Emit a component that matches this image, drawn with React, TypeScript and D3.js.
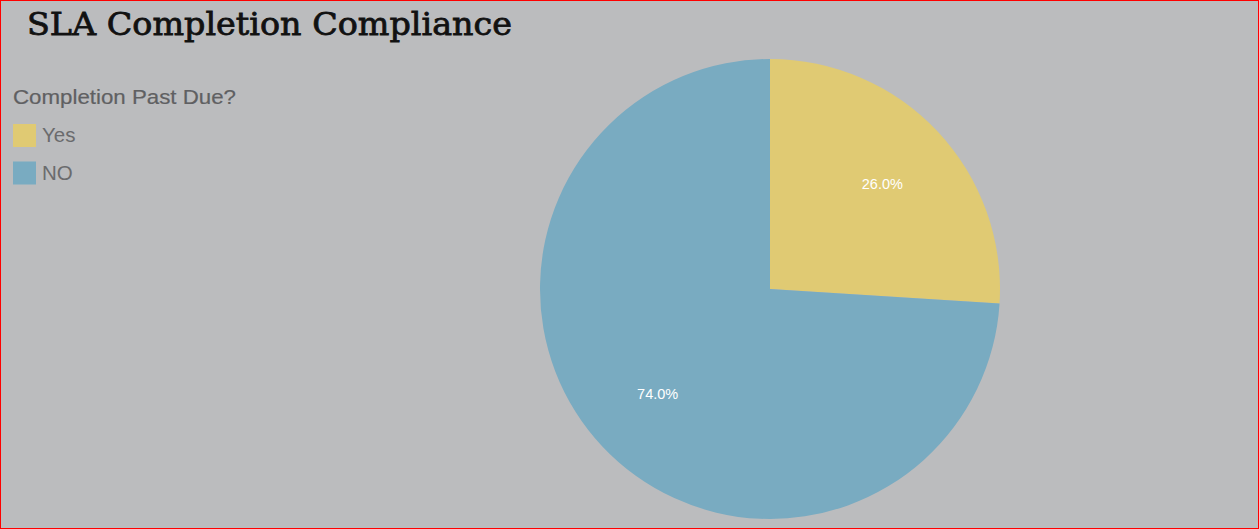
import React from "react";
import * as d3 from "d3";

const categories = ["Yes", "NO"];
const values = [26.0, 74.0];
const colors = ["#e0ca73", "#79abc1"];
const title = "SLA Completion Compliance";
const legendTitle = "Completion Past Due?";

const W = 1259;
const H = 529;

export default function App() {
  const cx = 770;
  const cy = 289;
  const r = 230;
  const pie = d3.pie<number>().sort(null).value((d) => d);
  const arcs = pie(values);
  const arc = d3.arc<d3.PieArcDatum<number>>().innerRadius(0).outerRadius(r);
  const labelArc = d3.arc<d3.PieArcDatum<number>>().innerRadius(r * 0.67).outerRadius(r * 0.67);
  const total = d3.sum(values);
  return (
    <svg width={W} height={H} style={{ position: "absolute", left: 0, top: 0, display: "block" }}>
      <rect x={0.5} y={0.5} width={W - 1} height={H - 1} fill="#bbbcbe" stroke="#ff0000" strokeWidth={1} />
      <text x={27} y={35} fontFamily="DejaVu Serif" fontSize={32} fill="#111" stroke="#111" strokeWidth={0.8} textLength={485} lengthAdjust="spacingAndGlyphs">
        {title}
      </text>
      <text x={13} y={104} fontFamily="Liberation Sans, Arial" fontSize={20.5} fill="#5f6062" stroke="#5f6062" strokeWidth={0.2} textLength={223} lengthAdjust="spacingAndGlyphs">
        {legendTitle}
      </text>
      {categories.map((c, i) => (
        <g key={c} transform={`translate(13,${124 + i * 37.5})`}>
          <rect width={23} height={23} fill={colors[i]} />
          <text x={29} y={18} fontFamily="Liberation Sans, Arial" fontSize={20.5} fill="#6a6b6d">
            {c}
          </text>
        </g>
      ))}
      <g transform={`translate(${cx},${cy})`}>
        {arcs.map((a, i) => (
          <path key={i} d={arc(a) || ""} fill={colors[i]} />
        ))}
        {arcs.map((a, i) => {
          const [x, y] = labelArc.centroid(a);
          return (
            <text key={"l" + i} x={x} y={y + 5} textAnchor="middle" fontFamily="Liberation Sans, Arial" fontSize={14.5} fill="#ffffff">
              {((a.data / total) * 100).toFixed(1)}%
            </text>
          );
        })}
      </g>
    </svg>
  );
}
